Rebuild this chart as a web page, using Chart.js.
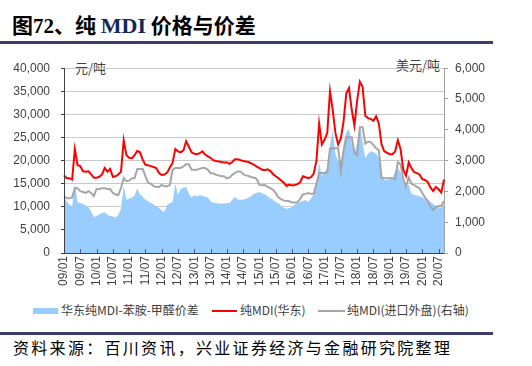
<!DOCTYPE html>
<html>
<head>
<meta charset="utf-8">
<script src="https://cdn.jsdelivr.net/npm/chart.js@4.4.1/dist/chart.umd.min.js"></script>
<style>
  body{margin:0;width:532px;height:366px;background:#fff;position:relative;overflow:hidden;font-family:"Noto Sans CJK SC",sans-serif;color:#000}
  #title{position:absolute;left:12px;top:14px;font-size:21px;line-height:21px;font-weight:700;white-space:nowrap}
  #title .lat{font-family:"Liberation Serif",serif;font-weight:700}
  #title .mdi{font-family:"Liberation Serif",serif;font-weight:700;color:#12295a;font-size:22px}
  .rule{position:absolute;left:0;width:493px;height:3px;background:#3b3b6c}
  .unit{position:absolute;font-size:13px;line-height:13px;color:#404040;white-space:nowrap}
  #c{position:absolute;left:0;top:50px}
  .lg{position:absolute;font-size:12px;line-height:12px;color:#404040;white-space:nowrap}
  .sw{position:absolute}
  #source{position:absolute;left:13px;top:339px;font-size:16px;line-height:16px;letter-spacing:2.3px;white-space:nowrap}
</style>
</head>
<body>
<div id="title">图<span class="lat">72</span>、纯 <span class="mdi">MDI</span> 价格与价差</div>
<div class="rule" style="top:41px"></div>
<div class="unit" style="left:75px;top:61px">元/吨</div>
<div class="unit" style="left:396px;top:58px">美元/吨</div>
<canvas id="c" width="532" height="250"></canvas>

<div class="sw" style="left:33px;top:308px;width:25px;height:6px;background:#99ccff"></div>
<div class="lg" style="left:61px;top:304px">华东纯MDI-苯胺-甲醛价差</div>
<div class="sw" style="left:212px;top:310px;width:25px;height:2px;background:#ff0000"></div>
<div class="lg" style="left:240px;top:304px">纯MDI(华东)</div>
<div class="sw" style="left:318px;top:310px;width:27px;height:2px;background:#a6a6a6"></div>
<div class="lg" style="left:347px;top:304px">纯MDI(进口外盘)(右轴)</div>

<div class="rule" style="top:332px"></div>
<div id="source">资料来源：百川资讯，兴业证券经济与金融研究院整理</div>

<script>
// monthly, 2009/01 .. 2020/09
const tickLabels = ['09/01','09/07','10/01','10/07','11/01','11/07','12/01','12/07','13/01','13/07','14/01','14/07',
  '15/01','15/07','16/01','16/07','17/01','17/07','18/01','18/07','19/01','19/07','20/01','20/07'];

const months = [];
for (let y = 9; y <= 20; y++) {
  for (let m = 1; m <= 12; m++) {
    if (y === 20 && m > 9) break;
    months.push(String(y).padStart(2,'0') + '/' + String(m).padStart(2,'0'));
  }
}

// 华东纯MDI-苯胺-甲醛价差 (元/吨)
const spread = [
  12000,11200,10500,10000,15000,11000,10800,10600,10300,9900,
  9000,7800,8000,8400,8600,8800,8300,8000,7900,7700,
  8200,9500,14500,11500,11800,12000,12400,14000,12700,12200,
  11500,11200,10800,10500,10000,9800,9200,8900,10400,10800,
  11000,15000,12600,13800,14200,14300,12800,12000,12500,12300,
  12500,12400,12200,12000,11200,10900,10800,10700,10700,10700,
  10800,10800,11500,12200,11600,11500,11600,11700,12000,12300,
  12800,13000,13200,12900,12700,12300,11800,11600,11000,10800,
  10200,9800,9600,9700,9900,10500,10800,11000,11300,11400,
  11100,11800,12700,15000,19500,16700,17500,18400,23400,26500,
  21500,19800,20000,23500,26200,26800,23500,21500,23800,27800,
  24000,20500,21500,22000,21800,21500,20600,16500,15800,15800,
  15900,16200,17600,18400,17500,15200,14200,14800,12800,12600,
  12400,12300,12000,11700,11300,11000,10600,10200,9900,9800,10500
];

// 纯MDI(华东) (元/吨)
const eastChina = [
  16800,16200,16200,15900,22500,19000,18800,17700,17600,17700,
  17000,16300,16300,16500,17000,18400,17600,18200,16500,16600,
  17000,17600,24400,21200,20600,20500,21200,22100,21800,20200,
  19100,19000,18800,18600,18400,17300,16900,17000,17400,18500,
  19500,22500,22000,21800,22200,24200,23000,21800,21500,21400,
  21600,22000,21300,20900,20600,20100,19900,19800,19700,19600,
  19600,19300,19700,20300,20300,20100,19900,19800,19700,19400,
  19100,18700,18400,18000,17900,18100,17800,17100,16600,16200,
  15700,15200,14500,14800,14600,14700,14900,15300,16600,16400,
  16200,16400,17200,20000,28000,23500,24500,26000,35000,31000,
  26000,23500,24800,28500,34500,35700,31000,27600,33000,37100,
  36000,29700,29200,29000,28600,29600,28000,23500,22000,21700,
  21400,21400,22000,24400,22500,18000,16700,19600,18400,17500,
  17300,17000,16000,15800,15400,14200,13400,14300,13800,13100,15900
];

// 纯MDI(进口外盘) (美元/吨, 右轴)
const imported = [
  1850,1780,1780,1800,2110,2100,2010,1980,1950,2010,
  1950,1850,2080,2080,2100,2100,2080,2080,1950,1900,
  1880,2110,2430,2330,2350,2430,2430,2730,2730,2730,
  2490,2280,2250,2170,2140,2140,2210,2170,2170,2210,
  2700,2760,2760,2760,2810,2880,2880,2700,2700,2700,
  2740,2760,2760,2700,2590,2590,2540,2520,2490,2490,
  2420,2450,2540,2600,2650,2650,2560,2520,2500,2460,
  2450,2400,2210,2200,2210,2150,2110,2050,1950,1800,
  1750,1700,1690,1680,1640,1640,1650,1750,1900,1920,
  1950,1920,1920,2250,2590,2600,2600,2620,3390,3390,
  3400,3400,2650,3300,3760,3760,3760,3250,3180,4080,
  4080,3550,3620,3600,3500,3400,3330,2450,2430,2430,
  2430,2430,2400,2950,2880,2400,2150,2450,2250,2200,
  2150,2100,1950,1800,1700,1500,1400,1500,1530,1530,1690
];

const tickFont = {family:'"Liberation Sans", Arial, sans-serif', size:12};
const fmt = v => Number(v).toLocaleString('en-US');

// short inside tick marks on the x axis + axis lines redrawn over the area fill
const axisMarks = {
  id:'axisMarks',
  afterDatasetsDraw(chart){
    const {ctx, chartArea:a, scales:{x}} = chart;
    ctx.save();
    ctx.strokeStyle = '#595959'; ctx.lineWidth = 1;
    ctx.beginPath();
    months.forEach((m,i)=>{
      if(!tickLabels.includes(m)) return;
      const px = Math.round(x.getPixelForValue(i)) + 0.5;
      ctx.moveTo(px, a.bottom); ctx.lineTo(px, a.bottom - 4);
    });
    ctx.stroke();
    ctx.strokeStyle = '#404040';
    ctx.beginPath();
    ctx.moveTo(a.left + 0.5, a.top); ctx.lineTo(a.left + 0.5, a.bottom + 0.5);
    ctx.lineTo(a.right, a.bottom + 0.5);
    ctx.stroke();
    ctx.restore();
  }
};

new Chart(document.getElementById('c'), {
  type:'line',
  data:{
    labels: months,
    datasets:[
      {label:'华东纯MDI-苯胺-甲醛价差', data:spread, yAxisID:'y', fill:'origin',
       backgroundColor:'#99ccff', borderWidth:0, pointRadius:0, order:3},
      {label:'纯MDI(华东)', data:eastChina, yAxisID:'y', fill:false,
       borderColor:'#ff0000', borderWidth:2, pointRadius:0, order:1},
      {label:'纯MDI(进口外盘)(右轴)', data:imported, yAxisID:'y2', fill:false,
       borderColor:'#a6a6a6', borderWidth:2, pointRadius:0, order:2}
    ]
  },
  options:{
    responsive:false, animation:false,
    layout:{padding:{top:15, left:0, right:0, bottom:0}},
    plugins:{legend:{display:false}, tooltip:{enabled:false}},
    elements:{line:{tension:0}},
    scales:{
      x:{
        type:'category',
        grid:{display:false, drawTicks:false},
        border:{display:true, color:'#404040'},
        ticks:{
          autoSkip:false, minRotation:90, maxRotation:90, padding:3,
          color:'#404040', font:tickFont,
          callback(v){ const l = this.getLabelForValue(v); return tickLabels.includes(l) ? l : ''; }
        },
        afterFit(s){ s.height = 47; }
      },
      y:{
        position:'left', min:0, max:40000,
        grid:{color:'#c8c8c8', borderDash:[3,2], drawTicks:true, tickLength:3, tickColor:'#404040', tickBorderDash:[]},
        border:{display:true, color:'#404040'},
        ticks:{stepSize:5000, padding:11, color:'#404040', font:tickFont, callback:v=>fmt(v)},
        afterFit(s){ s.width = 64; }
      },
      y2:{
        position:'right', min:0, max:6000,
        grid:{drawOnChartArea:false, drawTicks:true, tickLength:4, tickColor:'#a0a0a0'},
        border:{display:true, color:'#a0a0a0'},
        ticks:{stepSize:1000, padding:7, color:'#404040', font:tickFont, callback:v=>fmt(v)},
        afterFit(s){ s.width = 88; }
      }
    }
  },
  plugins:[axisMarks]
});
</script>
</body>
</html>
